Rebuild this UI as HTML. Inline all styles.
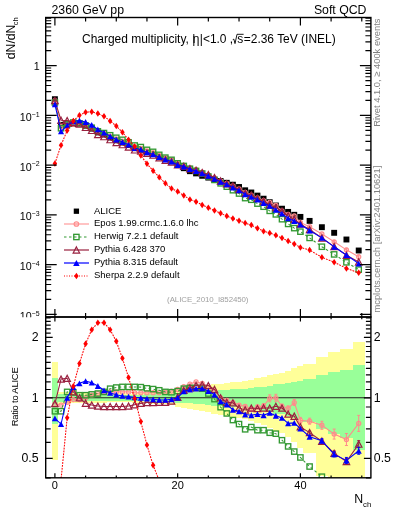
<!DOCTYPE html>
<html><head><meta charset="utf-8"><style>
html,body{margin:0;padding:0;background:#fff;}
body{width:393px;height:512px;overflow:hidden;position:relative;font-family:"Liberation Sans",sans-serif;}
svg{position:absolute;left:0;top:0;will-change:transform;}
text{font-family:"Liberation Sans",sans-serif;}
</style></head><body>
<svg width="393" height="512" viewBox="0 0 393 512">
<defs>
<clipPath id="cl5"><rect x="0" y="0" width="45" height="317.3"/></clipPath>
<clipPath id="ct"><rect x="45.7" y="17.5" width="325.2" height="299.5"/></clipPath>
<clipPath id="cr"><rect x="45.7" y="317.0" width="325.2" height="160.8"/></clipPath>
</defs>
<g clip-path="url(#cr)">
<g fill="#ffff99" shape-rendering="crispEdges"><rect x="51.83" y="361.83" width="6.16" height="98.24"/><rect x="57.97" y="391.89" width="6.16" height="12.24"/><rect x="64.11" y="392.2" width="6.16" height="11.58"/><rect x="70.24" y="392.51" width="6.16" height="10.93"/><rect x="76.38" y="392.82" width="6.16" height="10.27"/><rect x="82.52" y="393.13" width="6.16" height="9.61"/><rect x="88.66" y="393.19" width="6.16" height="9.49"/><rect x="94.79" y="393.24" width="6.16" height="9.36"/><rect x="100.93" y="393.3" width="6.16" height="9.24"/><rect x="107.07" y="393.36" width="6.16" height="9.11"/><rect x="113.21" y="393.42" width="6.16" height="8.99"/><rect x="119.34" y="393.48" width="6.16" height="8.86"/><rect x="125.48" y="393.54" width="6.16" height="8.74"/><rect x="131.62" y="393.26" width="6.16" height="9.32"/><rect x="137.76" y="392.99" width="6.16" height="9.9"/><rect x="143.89" y="392.71" width="6.16" height="10.49"/><rect x="150.03" y="392.44" width="6.16" height="11.07"/><rect x="156.17" y="392.17" width="6.16" height="11.66"/><rect x="162.31" y="391.89" width="6.16" height="12.24"/><rect x="168.44" y="390.88" width="6.16" height="14.44"/><rect x="174.58" y="389.88" width="6.16" height="16.64"/><rect x="180.72" y="388.89" width="6.16" height="18.84"/><rect x="186.86" y="387.91" width="6.16" height="21.05"/><rect x="192.99" y="387.03" width="6.16" height="23.05"/><rect x="199.13" y="386.17" width="6.16" height="25.05"/><rect x="205.27" y="385.32" width="6.16" height="27.06"/><rect x="211.41" y="384.47" width="6.16" height="29.07"/><rect x="217.54" y="383.72" width="6.16" height="30.87"/><rect x="223.68" y="382.98" width="6.16" height="32.67"/><rect x="229.82" y="382.25" width="6.16" height="34.49"/><rect x="235.96" y="381.52" width="6.16" height="36.3"/><rect x="242.09" y="380.62" width="6.16" height="38.59"/><rect x="248.23" y="379.73" width="6.16" height="40.89"/><rect x="254.37" y="378.39" width="6.16" height="44.41"/><rect x="260.51" y="376.94" width="6.16" height="48.34"/><rect x="266.64" y="375.17" width="6.16" height="53.27"/><rect x="272.78" y="373.83" width="6.16" height="57.12"/><rect x="278.92" y="372.64" width="6.16" height="60.64"/><rect x="285.06" y="370.77" width="6.16" height="66.4"/><rect x="291.19" y="368.49" width="6.16" height="73.76"/><rect x="297.33" y="366.27" width="6.16" height="81.37"/><rect x="303.47" y="364.23" width="12.29" height="88.83"/><rect x="315.74" y="357.32" width="12.3" height="118.31"/><rect x="328.02" y="352.31" width="12.29" height="125.49"/><rect x="340.29" y="349.2" width="12.29" height="128.6"/><rect x="352.57" y="342.09" width="12.3" height="135.71"/></g>
<g fill="#99ff99" shape-rendering="crispEdges"><rect x="51.83" y="377.9" width="6.16" height="45.71"/><rect x="57.97" y="393.96" width="6.16" height="7.86"/><rect x="64.11" y="394.12" width="6.16" height="7.51"/><rect x="70.24" y="394.29" width="6.16" height="7.16"/><rect x="76.38" y="394.46" width="6.16" height="6.81"/><rect x="82.52" y="394.63" width="6.16" height="6.46"/><rect x="88.66" y="394.68" width="6.16" height="6.36"/><rect x="94.79" y="394.72" width="6.16" height="6.26"/><rect x="100.93" y="394.77" width="6.16" height="6.16"/><rect x="107.07" y="394.82" width="6.16" height="6.06"/><rect x="113.21" y="394.87" width="6.16" height="5.96"/><rect x="119.34" y="394.92" width="6.16" height="5.86"/><rect x="125.48" y="394.97" width="6.16" height="5.76"/><rect x="131.62" y="394.8" width="6.16" height="6.11"/><rect x="137.76" y="394.63" width="6.16" height="6.46"/><rect x="143.89" y="394.46" width="6.16" height="6.81"/><rect x="150.03" y="394.29" width="6.16" height="7.16"/><rect x="156.17" y="394.12" width="6.16" height="7.51"/><rect x="162.31" y="393.96" width="6.16" height="7.86"/><rect x="168.44" y="393.64" width="6.16" height="8.52"/><rect x="174.58" y="393.33" width="6.16" height="9.17"/><rect x="180.72" y="393.02" width="6.16" height="9.83"/><rect x="186.86" y="392.71" width="6.16" height="10.49"/><rect x="192.99" y="392.2" width="6.16" height="11.58"/><rect x="199.13" y="391.69" width="6.16" height="12.68"/><rect x="205.27" y="391.18" width="6.16" height="13.78"/><rect x="211.41" y="390.68" width="6.16" height="14.88"/><rect x="217.54" y="390.28" width="6.16" height="15.76"/><rect x="223.68" y="389.88" width="6.16" height="16.64"/><rect x="229.82" y="389.48" width="6.16" height="17.52"/><rect x="235.96" y="389.08" width="6.16" height="18.4"/><rect x="242.09" y="388.61" width="6.16" height="19.46"/><rect x="248.23" y="388.14" width="6.16" height="20.52"/><rect x="254.37" y="387.21" width="6.16" height="22.65"/><rect x="260.51" y="386.52" width="6.16" height="24.25"/><rect x="266.64" y="385.6" width="6.16" height="26.39"/><rect x="272.78" y="384.47" width="6.16" height="29.07"/><rect x="278.92" y="383.8" width="6.16" height="30.69"/><rect x="285.06" y="382.69" width="6.16" height="33.4"/><rect x="291.19" y="381.52" width="6.16" height="36.3"/><rect x="297.33" y="380.58" width="6.16" height="38.68"/><rect x="303.47" y="379.16" width="12.29" height="42.36"/><rect x="315.74" y="374.9" width="12.3" height="54.04"/><rect x="328.02" y="372.25" width="12.29" height="61.82"/><rect x="340.29" y="370.19" width="12.29" height="68.22"/><rect x="352.57" y="365.49" width="12.3" height="84.18"/></g>
<line x1="45.7" y1="397.8" x2="370.9" y2="397.8" stroke="#222" stroke-width="1.1"/>
</g>
<g clip-path="url(#ct)">
<g><rect x="51.95" y="96.25" width="5.9" height="5.9" fill="#000" stroke="none" stroke-width="0"/><rect x="58.09" y="121.95" width="5.9" height="5.9" fill="#000" stroke="none" stroke-width="0"/><rect x="64.22" y="122.45" width="5.9" height="5.9" fill="#000" stroke="none" stroke-width="0"/><rect x="70.36" y="120.95" width="5.9" height="5.9" fill="#000" stroke="none" stroke-width="0"/><rect x="76.5" y="121.05" width="5.9" height="5.9" fill="#000" stroke="none" stroke-width="0"/><rect x="82.64" y="123.15" width="5.9" height="5.9" fill="#000" stroke="none" stroke-width="0"/><rect x="88.77" y="125.65" width="5.9" height="5.9" fill="#000" stroke="none" stroke-width="0"/><rect x="94.91" y="129.45" width="5.9" height="5.9" fill="#000" stroke="none" stroke-width="0"/><rect x="101.05" y="131.55" width="5.9" height="5.9" fill="#000" stroke="none" stroke-width="0"/><rect x="107.19" y="134.55" width="5.9" height="5.9" fill="#000" stroke="none" stroke-width="0"/><rect x="113.33" y="137.35" width="5.9" height="5.9" fill="#000" stroke="none" stroke-width="0"/><rect x="119.46" y="139.55" width="5.9" height="5.9" fill="#000" stroke="none" stroke-width="0"/><rect x="125.6" y="142.05" width="5.9" height="5.9" fill="#000" stroke="none" stroke-width="0"/><rect x="131.74" y="145.25" width="5.9" height="5.9" fill="#000" stroke="none" stroke-width="0"/><rect x="137.88" y="146.75" width="5.9" height="5.9" fill="#000" stroke="none" stroke-width="0"/><rect x="144.01" y="149.25" width="5.9" height="5.9" fill="#000" stroke="none" stroke-width="0"/><rect x="150.15" y="151.05" width="5.9" height="5.9" fill="#000" stroke="none" stroke-width="0"/><rect x="156.29" y="153.75" width="5.9" height="5.9" fill="#000" stroke="none" stroke-width="0"/><rect x="162.43" y="156.15" width="5.9" height="5.9" fill="#000" stroke="none" stroke-width="0"/><rect x="168.56" y="158.25" width="5.9" height="5.9" fill="#000" stroke="none" stroke-width="0"/><rect x="174.7" y="162.05" width="5.9" height="5.9" fill="#000" stroke="none" stroke-width="0"/><rect x="180.84" y="165.25" width="5.9" height="5.9" fill="#000" stroke="none" stroke-width="0"/><rect x="186.98" y="168.25" width="5.9" height="5.9" fill="#000" stroke="none" stroke-width="0"/><rect x="193.11" y="170.45" width="5.9" height="5.9" fill="#000" stroke="none" stroke-width="0"/><rect x="199.25" y="172.85" width="5.9" height="5.9" fill="#000" stroke="none" stroke-width="0"/><rect x="205.39" y="174.65" width="5.9" height="5.9" fill="#000" stroke="none" stroke-width="0"/><rect x="211.53" y="176.65" width="5.9" height="5.9" fill="#000" stroke="none" stroke-width="0"/><rect x="217.66" y="178.05" width="5.9" height="5.9" fill="#000" stroke="none" stroke-width="0"/><rect x="223.8" y="179.85" width="5.9" height="5.9" fill="#000" stroke="none" stroke-width="0"/><rect x="229.94" y="181.75" width="5.9" height="5.9" fill="#000" stroke="none" stroke-width="0"/><rect x="236.08" y="184.05" width="5.9" height="5.9" fill="#000" stroke="none" stroke-width="0"/><rect x="242.21" y="187.35" width="5.9" height="5.9" fill="#000" stroke="none" stroke-width="0"/><rect x="248.35" y="189.55" width="5.9" height="5.9" fill="#000" stroke="none" stroke-width="0"/><rect x="254.49" y="192.65" width="5.9" height="5.9" fill="#000" stroke="none" stroke-width="0"/><rect x="260.62" y="195.75" width="5.9" height="5.9" fill="#000" stroke="none" stroke-width="0"/><rect x="266.76" y="199.25" width="5.9" height="5.9" fill="#000" stroke="none" stroke-width="0"/><rect x="272.9" y="202.55" width="5.9" height="5.9" fill="#000" stroke="none" stroke-width="0"/><rect x="279.04" y="205.75" width="5.9" height="5.9" fill="#000" stroke="none" stroke-width="0"/><rect x="285.18" y="208.95" width="5.9" height="5.9" fill="#000" stroke="none" stroke-width="0"/><rect x="291.31" y="211.85" width="5.9" height="5.9" fill="#000" stroke="none" stroke-width="0"/><rect x="297.45" y="213.95" width="5.9" height="5.9" fill="#000" stroke="none" stroke-width="0"/><rect x="306.66" y="217.95" width="5.9" height="5.9" fill="#000" stroke="none" stroke-width="0"/><rect x="318.93" y="224.25" width="5.9" height="5.9" fill="#000" stroke="none" stroke-width="0"/><rect x="331.21" y="229.85" width="5.9" height="5.9" fill="#000" stroke="none" stroke-width="0"/><rect x="343.48" y="236.55" width="5.9" height="5.9" fill="#000" stroke="none" stroke-width="0"/><rect x="355.76" y="247.55" width="5.9" height="5.9" fill="#000" stroke="none" stroke-width="0"/></g>
<polyline points="54.9,100.77 61.04,126.7 67.17,126.51 73.31,124.34 79.45,124.44 85.59,126.1 91.72,127.96 97.86,131.35 104,133.24 110.14,136.04 116.28,138.84 122.41,141.04 128.55,143.54 134.69,146.94 140.82,148.44 146.96,150.94 153.1,152.74 159.24,155.44 165.38,157.74 171.51,159.54 177.65,162.94 183.79,165.43 189.93,167.81 196.06,169.46 202.2,172.26 208.34,174.96 214.48,177.94 220.61,181 226.75,183.46 232.89,185.81 239.03,188.8 245.16,192.41 251.3,195.26 257.44,197.88 263.57,200.74 269.71,202.33 275.85,205.5 281.99,210.86 288.12,214.52 294.26,215.98 300.4,222.49 309.61,226.69 321.88,234 334.16,241.78 346.43,249.83 358.71,256.83" fill="none" stroke="#ff8c8c" stroke-width="1.05"/>
<path d="M334.16 240.53V243.03M332.66 240.53H335.66M332.66 243.03H335.66" stroke="#ff8c8c" stroke-width="1" fill="none"/>
<path d="M346.43 248.33V251.33M344.93 248.33H347.93M344.93 251.33H347.93" stroke="#ff8c8c" stroke-width="1" fill="none"/>
<path d="M358.71 254.83V258.83M357.21 254.83H360.21M357.21 258.83H360.21" stroke="#ff8c8c" stroke-width="1" fill="none"/>
<g><circle cx="54.9" cy="100.77" r="2.1" fill="#ff8c8c" fill-opacity="0.3" stroke="#ff8c8c" stroke-width="1.1"/><circle cx="61.04" cy="126.7" r="2.1" fill="#ff8c8c" fill-opacity="0.3" stroke="#ff8c8c" stroke-width="1.1"/><circle cx="67.17" cy="126.51" r="2.1" fill="#ff8c8c" fill-opacity="0.3" stroke="#ff8c8c" stroke-width="1.1"/><circle cx="73.31" cy="124.34" r="2.1" fill="#ff8c8c" fill-opacity="0.3" stroke="#ff8c8c" stroke-width="1.1"/><circle cx="79.45" cy="124.44" r="2.1" fill="#ff8c8c" fill-opacity="0.3" stroke="#ff8c8c" stroke-width="1.1"/><circle cx="85.59" cy="126.1" r="2.1" fill="#ff8c8c" fill-opacity="0.3" stroke="#ff8c8c" stroke-width="1.1"/><circle cx="91.72" cy="127.96" r="2.1" fill="#ff8c8c" fill-opacity="0.3" stroke="#ff8c8c" stroke-width="1.1"/><circle cx="97.86" cy="131.35" r="2.1" fill="#ff8c8c" fill-opacity="0.3" stroke="#ff8c8c" stroke-width="1.1"/><circle cx="104" cy="133.24" r="2.1" fill="#ff8c8c" fill-opacity="0.3" stroke="#ff8c8c" stroke-width="1.1"/><circle cx="110.14" cy="136.04" r="2.1" fill="#ff8c8c" fill-opacity="0.3" stroke="#ff8c8c" stroke-width="1.1"/><circle cx="116.28" cy="138.84" r="2.1" fill="#ff8c8c" fill-opacity="0.3" stroke="#ff8c8c" stroke-width="1.1"/><circle cx="122.41" cy="141.04" r="2.1" fill="#ff8c8c" fill-opacity="0.3" stroke="#ff8c8c" stroke-width="1.1"/><circle cx="128.55" cy="143.54" r="2.1" fill="#ff8c8c" fill-opacity="0.3" stroke="#ff8c8c" stroke-width="1.1"/><circle cx="134.69" cy="146.94" r="2.1" fill="#ff8c8c" fill-opacity="0.3" stroke="#ff8c8c" stroke-width="1.1"/><circle cx="140.82" cy="148.44" r="2.1" fill="#ff8c8c" fill-opacity="0.3" stroke="#ff8c8c" stroke-width="1.1"/><circle cx="146.96" cy="150.94" r="2.1" fill="#ff8c8c" fill-opacity="0.3" stroke="#ff8c8c" stroke-width="1.1"/><circle cx="153.1" cy="152.74" r="2.1" fill="#ff8c8c" fill-opacity="0.3" stroke="#ff8c8c" stroke-width="1.1"/><circle cx="159.24" cy="155.44" r="2.1" fill="#ff8c8c" fill-opacity="0.3" stroke="#ff8c8c" stroke-width="1.1"/><circle cx="165.38" cy="157.74" r="2.1" fill="#ff8c8c" fill-opacity="0.3" stroke="#ff8c8c" stroke-width="1.1"/><circle cx="171.51" cy="159.54" r="2.1" fill="#ff8c8c" fill-opacity="0.3" stroke="#ff8c8c" stroke-width="1.1"/><circle cx="177.65" cy="162.94" r="2.1" fill="#ff8c8c" fill-opacity="0.3" stroke="#ff8c8c" stroke-width="1.1"/><circle cx="183.79" cy="165.43" r="2.1" fill="#ff8c8c" fill-opacity="0.3" stroke="#ff8c8c" stroke-width="1.1"/><circle cx="189.93" cy="167.81" r="2.1" fill="#ff8c8c" fill-opacity="0.3" stroke="#ff8c8c" stroke-width="1.1"/><circle cx="196.06" cy="169.46" r="2.1" fill="#ff8c8c" fill-opacity="0.3" stroke="#ff8c8c" stroke-width="1.1"/><circle cx="202.2" cy="172.26" r="2.1" fill="#ff8c8c" fill-opacity="0.3" stroke="#ff8c8c" stroke-width="1.1"/><circle cx="208.34" cy="174.96" r="2.1" fill="#ff8c8c" fill-opacity="0.3" stroke="#ff8c8c" stroke-width="1.1"/><circle cx="214.48" cy="177.94" r="2.1" fill="#ff8c8c" fill-opacity="0.3" stroke="#ff8c8c" stroke-width="1.1"/><circle cx="220.61" cy="181" r="2.1" fill="#ff8c8c" fill-opacity="0.3" stroke="#ff8c8c" stroke-width="1.1"/><circle cx="226.75" cy="183.46" r="2.1" fill="#ff8c8c" fill-opacity="0.3" stroke="#ff8c8c" stroke-width="1.1"/><circle cx="232.89" cy="185.81" r="2.1" fill="#ff8c8c" fill-opacity="0.3" stroke="#ff8c8c" stroke-width="1.1"/><circle cx="239.03" cy="188.8" r="2.1" fill="#ff8c8c" fill-opacity="0.3" stroke="#ff8c8c" stroke-width="1.1"/><circle cx="245.16" cy="192.41" r="2.1" fill="#ff8c8c" fill-opacity="0.3" stroke="#ff8c8c" stroke-width="1.1"/><circle cx="251.3" cy="195.26" r="2.1" fill="#ff8c8c" fill-opacity="0.3" stroke="#ff8c8c" stroke-width="1.1"/><circle cx="257.44" cy="197.88" r="2.1" fill="#ff8c8c" fill-opacity="0.3" stroke="#ff8c8c" stroke-width="1.1"/><circle cx="263.57" cy="200.74" r="2.1" fill="#ff8c8c" fill-opacity="0.3" stroke="#ff8c8c" stroke-width="1.1"/><circle cx="269.71" cy="202.33" r="2.1" fill="#ff8c8c" fill-opacity="0.3" stroke="#ff8c8c" stroke-width="1.1"/><circle cx="275.85" cy="205.5" r="2.1" fill="#ff8c8c" fill-opacity="0.3" stroke="#ff8c8c" stroke-width="1.1"/><circle cx="281.99" cy="210.86" r="2.1" fill="#ff8c8c" fill-opacity="0.3" stroke="#ff8c8c" stroke-width="1.1"/><circle cx="288.12" cy="214.52" r="2.1" fill="#ff8c8c" fill-opacity="0.3" stroke="#ff8c8c" stroke-width="1.1"/><circle cx="294.26" cy="215.98" r="2.1" fill="#ff8c8c" fill-opacity="0.3" stroke="#ff8c8c" stroke-width="1.1"/><circle cx="300.4" cy="222.49" r="2.1" fill="#ff8c8c" fill-opacity="0.3" stroke="#ff8c8c" stroke-width="1.1"/><circle cx="309.61" cy="226.69" r="2.1" fill="#ff8c8c" fill-opacity="0.3" stroke="#ff8c8c" stroke-width="1.1"/><circle cx="321.88" cy="234" r="2.1" fill="#ff8c8c" fill-opacity="0.3" stroke="#ff8c8c" stroke-width="1.1"/><circle cx="334.16" cy="241.78" r="2.1" fill="#ff8c8c" fill-opacity="0.3" stroke="#ff8c8c" stroke-width="1.1"/><circle cx="346.43" cy="249.83" r="2.1" fill="#ff8c8c" fill-opacity="0.3" stroke="#ff8c8c" stroke-width="1.1"/><circle cx="358.71" cy="256.83" r="2.1" fill="#ff8c8c" fill-opacity="0.3" stroke="#ff8c8c" stroke-width="1.1"/></g>
<polyline points="54.9,102.53 61.04,128.23 67.17,123.94 73.31,122.54 79.45,123.36 85.59,125.46 91.72,127.75 97.86,131.35 104,133.04 110.14,135.25 116.28,137.76 122.41,139.8 128.55,142.3 134.69,145.5 140.82,147.06 146.96,149.85 153.1,151.84 159.24,154.84 165.38,157.64 171.51,159.82 177.65,163.34 183.79,165.95 189.93,168.75 196.06,170.95 202.2,173.55 208.34,176.55 214.48,179.93 220.61,183.32 226.75,186.67 232.89,190.21 239.03,193.51 245.16,198.1 251.3,199.75 257.44,203.62 263.57,206.72 269.71,210.85 275.85,214.38 281.99,219.2 288.12,223.93 294.26,228.11 300.4,231.66 309.61,237.91 321.88,246.73 334.16,254.4 346.43,262.31 358.71,269.61" fill="none" stroke="#339933" stroke-width="1.05" stroke-dasharray="2.5,2.5"/>
<g><rect x="52.25" y="99.88" width="5.3" height="5.3" fill="none" stroke="#339933" stroke-width="1.35"/><rect x="58.39" y="125.58" width="5.3" height="5.3" fill="none" stroke="#339933" stroke-width="1.35"/><rect x="64.52" y="121.29" width="5.3" height="5.3" fill="none" stroke="#339933" stroke-width="1.35"/><rect x="70.66" y="119.89" width="5.3" height="5.3" fill="none" stroke="#339933" stroke-width="1.35"/><rect x="76.8" y="120.71" width="5.3" height="5.3" fill="none" stroke="#339933" stroke-width="1.35"/><rect x="82.94" y="122.81" width="5.3" height="5.3" fill="none" stroke="#339933" stroke-width="1.35"/><rect x="89.07" y="125.1" width="5.3" height="5.3" fill="none" stroke="#339933" stroke-width="1.35"/><rect x="95.21" y="128.7" width="5.3" height="5.3" fill="none" stroke="#339933" stroke-width="1.35"/><rect x="101.35" y="130.39" width="5.3" height="5.3" fill="none" stroke="#339933" stroke-width="1.35"/><rect x="107.49" y="132.6" width="5.3" height="5.3" fill="none" stroke="#339933" stroke-width="1.35"/><rect x="113.62" y="135.11" width="5.3" height="5.3" fill="none" stroke="#339933" stroke-width="1.35"/><rect x="119.76" y="137.15" width="5.3" height="5.3" fill="none" stroke="#339933" stroke-width="1.35"/><rect x="125.9" y="139.65" width="5.3" height="5.3" fill="none" stroke="#339933" stroke-width="1.35"/><rect x="132.04" y="142.85" width="5.3" height="5.3" fill="none" stroke="#339933" stroke-width="1.35"/><rect x="138.17" y="144.41" width="5.3" height="5.3" fill="none" stroke="#339933" stroke-width="1.35"/><rect x="144.31" y="147.2" width="5.3" height="5.3" fill="none" stroke="#339933" stroke-width="1.35"/><rect x="150.45" y="149.19" width="5.3" height="5.3" fill="none" stroke="#339933" stroke-width="1.35"/><rect x="156.59" y="152.19" width="5.3" height="5.3" fill="none" stroke="#339933" stroke-width="1.35"/><rect x="162.72" y="154.99" width="5.3" height="5.3" fill="none" stroke="#339933" stroke-width="1.35"/><rect x="168.86" y="157.17" width="5.3" height="5.3" fill="none" stroke="#339933" stroke-width="1.35"/><rect x="175" y="160.69" width="5.3" height="5.3" fill="none" stroke="#339933" stroke-width="1.35"/><rect x="181.14" y="163.3" width="5.3" height="5.3" fill="none" stroke="#339933" stroke-width="1.35"/><rect x="187.28" y="166.1" width="5.3" height="5.3" fill="none" stroke="#339933" stroke-width="1.35"/><rect x="193.41" y="168.3" width="5.3" height="5.3" fill="none" stroke="#339933" stroke-width="1.35"/><rect x="199.55" y="170.9" width="5.3" height="5.3" fill="none" stroke="#339933" stroke-width="1.35"/><rect x="205.69" y="173.9" width="5.3" height="5.3" fill="none" stroke="#339933" stroke-width="1.35"/><rect x="211.83" y="177.28" width="5.3" height="5.3" fill="none" stroke="#339933" stroke-width="1.35"/><rect x="217.96" y="180.67" width="5.3" height="5.3" fill="none" stroke="#339933" stroke-width="1.35"/><rect x="224.1" y="184.02" width="5.3" height="5.3" fill="none" stroke="#339933" stroke-width="1.35"/><rect x="230.24" y="187.56" width="5.3" height="5.3" fill="none" stroke="#339933" stroke-width="1.35"/><rect x="236.38" y="190.86" width="5.3" height="5.3" fill="none" stroke="#339933" stroke-width="1.35"/><rect x="242.51" y="195.45" width="5.3" height="5.3" fill="none" stroke="#339933" stroke-width="1.35"/><rect x="248.65" y="197.1" width="5.3" height="5.3" fill="none" stroke="#339933" stroke-width="1.35"/><rect x="254.79" y="200.97" width="5.3" height="5.3" fill="none" stroke="#339933" stroke-width="1.35"/><rect x="260.93" y="204.07" width="5.3" height="5.3" fill="none" stroke="#339933" stroke-width="1.35"/><rect x="267.06" y="208.2" width="5.3" height="5.3" fill="none" stroke="#339933" stroke-width="1.35"/><rect x="273.2" y="211.73" width="5.3" height="5.3" fill="none" stroke="#339933" stroke-width="1.35"/><rect x="279.34" y="216.55" width="5.3" height="5.3" fill="none" stroke="#339933" stroke-width="1.35"/><rect x="285.48" y="221.28" width="5.3" height="5.3" fill="none" stroke="#339933" stroke-width="1.35"/><rect x="291.61" y="225.46" width="5.3" height="5.3" fill="none" stroke="#339933" stroke-width="1.35"/><rect x="297.75" y="229.01" width="5.3" height="5.3" fill="none" stroke="#339933" stroke-width="1.35"/><rect x="306.96" y="235.26" width="5.3" height="5.3" fill="none" stroke="#339933" stroke-width="1.35"/><rect x="319.23" y="244.08" width="5.3" height="5.3" fill="none" stroke="#339933" stroke-width="1.35"/><rect x="331.51" y="251.75" width="5.3" height="5.3" fill="none" stroke="#339933" stroke-width="1.35"/><rect x="343.78" y="259.66" width="5.3" height="5.3" fill="none" stroke="#339933" stroke-width="1.35"/><rect x="356.06" y="266.96" width="5.3" height="5.3" fill="none" stroke="#339933" stroke-width="1.35"/></g>
<polyline points="54.9,100.63 61.04,120.25 67.17,120.58 73.31,122.44 79.45,124 85.59,127.44 91.72,130.4 97.86,134.44 104,136.66 110.14,139.66 116.28,142.46 122.41,144.66 128.55,147.04 134.69,149.91 140.82,151.08 146.96,153.38 153.1,155.15 159.24,157.81 165.38,160.21 171.51,162.01 177.65,164.85 183.79,166.34 189.93,168.75 196.06,170.38 202.2,172.59 208.34,174.58 214.48,177.54 220.61,181 226.75,183.91 232.89,185.95 239.03,189.54 245.16,193.31 251.3,195.04 257.44,198.26 263.57,201.22 269.71,204.74 275.85,207.61 281.99,211.24 288.12,215.93 294.26,219.35 300.4,224.09 309.61,229.52 321.88,237.95 334.16,246.56 346.43,255.27 358.71,261.97" fill="none" stroke="#99203f" stroke-width="1.05"/>
<g><path d="M54.9 97.54L58.15 103.72L51.65 103.72Z" fill="none" stroke="#99203f" stroke-width="1.2"/><path d="M61.04 117.16L64.29 123.34L57.79 123.34Z" fill="none" stroke="#99203f" stroke-width="1.2"/><path d="M67.17 117.49L70.42 123.67L63.92 123.67Z" fill="none" stroke="#99203f" stroke-width="1.2"/><path d="M73.31 119.35L76.56 125.53L70.06 125.53Z" fill="none" stroke="#99203f" stroke-width="1.2"/><path d="M79.45 120.91L82.7 127.09L76.2 127.09Z" fill="none" stroke="#99203f" stroke-width="1.2"/><path d="M85.59 124.35L88.84 130.52L82.34 130.52Z" fill="none" stroke="#99203f" stroke-width="1.2"/><path d="M91.72 127.31L94.97 133.49L88.47 133.49Z" fill="none" stroke="#99203f" stroke-width="1.2"/><path d="M97.86 131.35L101.11 137.53L94.61 137.53Z" fill="none" stroke="#99203f" stroke-width="1.2"/><path d="M104 133.57L107.25 139.74L100.75 139.74Z" fill="none" stroke="#99203f" stroke-width="1.2"/><path d="M110.14 136.57L113.39 142.74L106.89 142.74Z" fill="none" stroke="#99203f" stroke-width="1.2"/><path d="M116.28 139.37L119.53 145.54L113.03 145.54Z" fill="none" stroke="#99203f" stroke-width="1.2"/><path d="M122.41 141.57L125.66 147.74L119.16 147.74Z" fill="none" stroke="#99203f" stroke-width="1.2"/><path d="M128.55 143.95L131.8 150.13L125.3 150.13Z" fill="none" stroke="#99203f" stroke-width="1.2"/><path d="M134.69 146.82L137.94 153L131.44 153Z" fill="none" stroke="#99203f" stroke-width="1.2"/><path d="M140.82 148L144.07 154.17L137.57 154.17Z" fill="none" stroke="#99203f" stroke-width="1.2"/><path d="M146.96 150.29L150.21 156.46L143.71 156.46Z" fill="none" stroke="#99203f" stroke-width="1.2"/><path d="M153.1 152.07L156.35 158.24L149.85 158.24Z" fill="none" stroke="#99203f" stroke-width="1.2"/><path d="M159.24 154.72L162.49 160.9L155.99 160.9Z" fill="none" stroke="#99203f" stroke-width="1.2"/><path d="M165.38 157.12L168.62 163.3L162.12 163.3Z" fill="none" stroke="#99203f" stroke-width="1.2"/><path d="M171.51 158.93L174.76 165.1L168.26 165.1Z" fill="none" stroke="#99203f" stroke-width="1.2"/><path d="M177.65 161.76L180.9 167.94L174.4 167.94Z" fill="none" stroke="#99203f" stroke-width="1.2"/><path d="M183.79 163.25L187.04 169.43L180.54 169.43Z" fill="none" stroke="#99203f" stroke-width="1.2"/><path d="M189.93 165.66L193.18 171.84L186.68 171.84Z" fill="none" stroke="#99203f" stroke-width="1.2"/><path d="M196.06 167.29L199.31 173.47L192.81 173.47Z" fill="none" stroke="#99203f" stroke-width="1.2"/><path d="M202.2 169.51L205.45 175.68L198.95 175.68Z" fill="none" stroke="#99203f" stroke-width="1.2"/><path d="M208.34 171.49L211.59 177.67L205.09 177.67Z" fill="none" stroke="#99203f" stroke-width="1.2"/><path d="M214.48 174.45L217.73 180.63L211.23 180.63Z" fill="none" stroke="#99203f" stroke-width="1.2"/><path d="M220.61 177.91L223.86 184.09L217.36 184.09Z" fill="none" stroke="#99203f" stroke-width="1.2"/><path d="M226.75 180.82L230 187L223.5 187Z" fill="none" stroke="#99203f" stroke-width="1.2"/><path d="M232.89 182.86L236.14 189.03L229.64 189.03Z" fill="none" stroke="#99203f" stroke-width="1.2"/><path d="M239.03 186.45L242.28 192.63L235.78 192.63Z" fill="none" stroke="#99203f" stroke-width="1.2"/><path d="M245.16 190.22L248.41 196.4L241.91 196.4Z" fill="none" stroke="#99203f" stroke-width="1.2"/><path d="M251.3 191.95L254.55 198.13L248.05 198.13Z" fill="none" stroke="#99203f" stroke-width="1.2"/><path d="M257.44 195.18L260.69 201.35L254.19 201.35Z" fill="none" stroke="#99203f" stroke-width="1.2"/><path d="M263.57 198.13L266.82 204.31L260.32 204.31Z" fill="none" stroke="#99203f" stroke-width="1.2"/><path d="M269.71 201.65L272.96 207.83L266.46 207.83Z" fill="none" stroke="#99203f" stroke-width="1.2"/><path d="M275.85 204.52L279.1 210.7L272.6 210.7Z" fill="none" stroke="#99203f" stroke-width="1.2"/><path d="M281.99 208.15L285.24 214.33L278.74 214.33Z" fill="none" stroke="#99203f" stroke-width="1.2"/><path d="M288.12 212.84L291.38 219.01L284.88 219.01Z" fill="none" stroke="#99203f" stroke-width="1.2"/><path d="M294.26 216.27L297.51 222.44L291.01 222.44Z" fill="none" stroke="#99203f" stroke-width="1.2"/><path d="M300.4 221L303.65 227.18L297.15 227.18Z" fill="none" stroke="#99203f" stroke-width="1.2"/><path d="M309.61 226.43L312.86 232.61L306.36 232.61Z" fill="none" stroke="#99203f" stroke-width="1.2"/><path d="M321.88 234.86L325.13 241.04L318.63 241.04Z" fill="none" stroke="#99203f" stroke-width="1.2"/><path d="M334.16 243.47L337.41 249.65L330.91 249.65Z" fill="none" stroke="#99203f" stroke-width="1.2"/><path d="M346.43 252.18L349.68 258.36L343.18 258.36Z" fill="none" stroke="#99203f" stroke-width="1.2"/><path d="M358.71 258.89L361.96 265.06L355.46 265.06Z" fill="none" stroke="#99203f" stroke-width="1.2"/></g>
<polyline points="54.9,104.29 61.04,131.41 67.17,125.4 73.31,121.26 79.45,120.42 85.59,121.98 91.72,124.84 97.86,129.47 104,132.64 110.14,136.3 116.28,139.54 122.41,142.03 128.55,144.7 134.69,148.09 140.82,149.7 146.96,152.42 153.1,154.37 159.24,157.22 165.38,159.62 171.51,161.57 177.65,165 183.79,166.62 189.93,169.14 196.06,171.15 202.2,173.45 208.34,175.94 214.48,178.84 220.61,181.88 226.75,184.46 232.89,187.66 239.03,190.38 245.16,194.43 251.3,196.81 257.44,199.63 263.57,203.01 269.71,205.94 275.85,209.95 281.99,213.68 288.12,218.23 294.26,221.02 300.4,224.51 309.61,230.54 321.88,237.84 334.16,246.8 346.43,255 358.71,263.61" fill="none" stroke="#0000ff" stroke-width="1.05"/>
<g><path d="M54.9 101.4L57.95 107.19L51.85 107.19Z" fill="#0000ff" stroke="none" stroke-width="0"/><path d="M61.04 128.51L64.09 134.3L57.99 134.3Z" fill="#0000ff" stroke="none" stroke-width="0"/><path d="M67.17 122.5L70.22 128.3L64.12 128.3Z" fill="#0000ff" stroke="none" stroke-width="0"/><path d="M73.31 118.36L76.36 124.16L70.26 124.16Z" fill="#0000ff" stroke="none" stroke-width="0"/><path d="M79.45 117.53L82.5 123.32L76.4 123.32Z" fill="#0000ff" stroke="none" stroke-width="0"/><path d="M85.59 119.08L88.64 124.88L82.54 124.88Z" fill="#0000ff" stroke="none" stroke-width="0"/><path d="M91.72 121.94L94.77 127.74L88.67 127.74Z" fill="#0000ff" stroke="none" stroke-width="0"/><path d="M97.86 126.58L100.91 132.37L94.81 132.37Z" fill="#0000ff" stroke="none" stroke-width="0"/><path d="M104 129.74L107.05 135.54L100.95 135.54Z" fill="#0000ff" stroke="none" stroke-width="0"/><path d="M110.14 133.4L113.19 139.2L107.09 139.2Z" fill="#0000ff" stroke="none" stroke-width="0"/><path d="M116.28 136.64L119.33 142.43L113.23 142.43Z" fill="#0000ff" stroke="none" stroke-width="0"/><path d="M122.41 139.13L125.46 144.93L119.36 144.93Z" fill="#0000ff" stroke="none" stroke-width="0"/><path d="M128.55 141.8L131.6 147.6L125.5 147.6Z" fill="#0000ff" stroke="none" stroke-width="0"/><path d="M134.69 145.19L137.74 150.99L131.64 150.99Z" fill="#0000ff" stroke="none" stroke-width="0"/><path d="M140.82 146.8L143.88 152.6L137.77 152.6Z" fill="#0000ff" stroke="none" stroke-width="0"/><path d="M146.96 149.52L150.01 155.31L143.91 155.31Z" fill="#0000ff" stroke="none" stroke-width="0"/><path d="M153.1 151.47L156.15 157.27L150.05 157.27Z" fill="#0000ff" stroke="none" stroke-width="0"/><path d="M159.24 154.33L162.29 160.12L156.19 160.12Z" fill="#0000ff" stroke="none" stroke-width="0"/><path d="M165.38 156.73L168.43 162.52L162.32 162.52Z" fill="#0000ff" stroke="none" stroke-width="0"/><path d="M171.51 158.67L174.56 164.47L168.46 164.47Z" fill="#0000ff" stroke="none" stroke-width="0"/><path d="M177.65 162.1L180.7 167.9L174.6 167.9Z" fill="#0000ff" stroke="none" stroke-width="0"/><path d="M183.79 163.72L186.84 169.51L180.74 169.51Z" fill="#0000ff" stroke="none" stroke-width="0"/><path d="M189.93 166.24L192.98 172.04L186.88 172.04Z" fill="#0000ff" stroke="none" stroke-width="0"/><path d="M196.06 168.25L199.11 174.04L193.01 174.04Z" fill="#0000ff" stroke="none" stroke-width="0"/><path d="M202.2 170.55L205.25 176.35L199.15 176.35Z" fill="#0000ff" stroke="none" stroke-width="0"/><path d="M208.34 173.04L211.39 178.83L205.29 178.83Z" fill="#0000ff" stroke="none" stroke-width="0"/><path d="M214.48 175.94L217.53 181.73L211.43 181.73Z" fill="#0000ff" stroke="none" stroke-width="0"/><path d="M220.61 178.98L223.66 184.78L217.56 184.78Z" fill="#0000ff" stroke="none" stroke-width="0"/><path d="M226.75 181.56L229.8 187.36L223.7 187.36Z" fill="#0000ff" stroke="none" stroke-width="0"/><path d="M232.89 184.76L235.94 190.56L229.84 190.56Z" fill="#0000ff" stroke="none" stroke-width="0"/><path d="M239.03 187.49L242.08 193.28L235.97 193.28Z" fill="#0000ff" stroke="none" stroke-width="0"/><path d="M245.16 191.53L248.21 197.33L242.11 197.33Z" fill="#0000ff" stroke="none" stroke-width="0"/><path d="M251.3 193.92L254.35 199.71L248.25 199.71Z" fill="#0000ff" stroke="none" stroke-width="0"/><path d="M257.44 196.73L260.49 202.52L254.39 202.52Z" fill="#0000ff" stroke="none" stroke-width="0"/><path d="M263.57 200.12L266.62 205.91L260.52 205.91Z" fill="#0000ff" stroke="none" stroke-width="0"/><path d="M269.71 203.04L272.76 208.84L266.66 208.84Z" fill="#0000ff" stroke="none" stroke-width="0"/><path d="M275.85 207.05L278.9 212.84L272.8 212.84Z" fill="#0000ff" stroke="none" stroke-width="0"/><path d="M281.99 210.79L285.04 216.58L278.94 216.58Z" fill="#0000ff" stroke="none" stroke-width="0"/><path d="M288.12 215.33L291.18 221.13L285.07 221.13Z" fill="#0000ff" stroke="none" stroke-width="0"/><path d="M294.26 218.12L297.31 223.91L291.21 223.91Z" fill="#0000ff" stroke="none" stroke-width="0"/><path d="M300.4 221.62L303.45 227.41L297.35 227.41Z" fill="#0000ff" stroke="none" stroke-width="0"/><path d="M309.61 227.65L312.66 233.44L306.56 233.44Z" fill="#0000ff" stroke="none" stroke-width="0"/><path d="M321.88 234.95L324.93 240.74L318.83 240.74Z" fill="#0000ff" stroke="none" stroke-width="0"/><path d="M334.16 243.91L337.21 249.7L331.11 249.7Z" fill="#0000ff" stroke="none" stroke-width="0"/><path d="M346.43 252.1L349.48 257.9L343.38 257.9Z" fill="#0000ff" stroke="none" stroke-width="0"/><path d="M358.71 260.72L361.76 266.51L355.66 266.51Z" fill="#0000ff" stroke="none" stroke-width="0"/></g>
<polyline points="54.9,163.6 61.04,145.2 67.17,130.5 73.31,121 79.45,115.3 85.59,112.2 91.72,111.8 97.86,113.6 104,116.3 110.14,121 116.28,126 122.41,132.2 128.55,139.7 134.69,146.4 140.82,155.5 146.96,163.8 153.1,170.7 159.24,177.2 165.38,183.3 171.51,188.6 177.65,191.5 183.79,195.5 189.93,199.6 196.06,201.7 202.2,204.9 208.34,207.8 214.48,210.5 220.61,213.3 226.75,216 232.89,218.6 239.03,220.7 245.16,223.1 251.3,225.1 257.44,228.2 263.57,231.2 269.71,232.9 275.85,235.3 281.99,238 288.12,241 294.26,243.9 300.4,247.4 309.61,250.1 321.88,257.3 334.16,262.2 346.43,268.4 358.71,272.8" fill="none" stroke="#ff0000" stroke-width="1.05" stroke-dasharray="1.8,1.1"/>
<g><path d="M54.9 160.35L57.15 163.6L54.9 166.85L52.65 163.6Z" fill="#ff0000"/><path d="M61.04 141.95L63.29 145.2L61.04 148.45L58.79 145.2Z" fill="#ff0000"/><path d="M67.17 127.25L69.42 130.5L67.17 133.75L64.92 130.5Z" fill="#ff0000"/><path d="M73.31 117.75L75.56 121L73.31 124.25L71.06 121Z" fill="#ff0000"/><path d="M79.45 112.05L81.7 115.3L79.45 118.55L77.2 115.3Z" fill="#ff0000"/><path d="M85.59 108.95L87.84 112.2L85.59 115.45L83.34 112.2Z" fill="#ff0000"/><path d="M91.72 108.55L93.97 111.8L91.72 115.05L89.47 111.8Z" fill="#ff0000"/><path d="M97.86 110.35L100.11 113.6L97.86 116.85L95.61 113.6Z" fill="#ff0000"/><path d="M104 113.05L106.25 116.3L104 119.55L101.75 116.3Z" fill="#ff0000"/><path d="M110.14 117.75L112.39 121L110.14 124.25L107.89 121Z" fill="#ff0000"/><path d="M116.28 122.75L118.53 126L116.28 129.25L114.03 126Z" fill="#ff0000"/><path d="M122.41 128.95L124.66 132.2L122.41 135.45L120.16 132.2Z" fill="#ff0000"/><path d="M128.55 136.45L130.8 139.7L128.55 142.95L126.3 139.7Z" fill="#ff0000"/><path d="M134.69 143.15L136.94 146.4L134.69 149.65L132.44 146.4Z" fill="#ff0000"/><path d="M140.82 152.25L143.07 155.5L140.82 158.75L138.57 155.5Z" fill="#ff0000"/><path d="M146.96 160.55L149.21 163.8L146.96 167.05L144.71 163.8Z" fill="#ff0000"/><path d="M153.1 167.45L155.35 170.7L153.1 173.95L150.85 170.7Z" fill="#ff0000"/><path d="M159.24 173.95L161.49 177.2L159.24 180.45L156.99 177.2Z" fill="#ff0000"/><path d="M165.38 180.05L167.62 183.3L165.38 186.55L163.12 183.3Z" fill="#ff0000"/><path d="M171.51 185.35L173.76 188.6L171.51 191.85L169.26 188.6Z" fill="#ff0000"/><path d="M177.65 188.25L179.9 191.5L177.65 194.75L175.4 191.5Z" fill="#ff0000"/><path d="M183.79 192.25L186.04 195.5L183.79 198.75L181.54 195.5Z" fill="#ff0000"/><path d="M189.93 196.35L192.18 199.6L189.93 202.85L187.68 199.6Z" fill="#ff0000"/><path d="M196.06 198.45L198.31 201.7L196.06 204.95L193.81 201.7Z" fill="#ff0000"/><path d="M202.2 201.65L204.45 204.9L202.2 208.15L199.95 204.9Z" fill="#ff0000"/><path d="M208.34 204.55L210.59 207.8L208.34 211.05L206.09 207.8Z" fill="#ff0000"/><path d="M214.48 207.25L216.73 210.5L214.48 213.75L212.23 210.5Z" fill="#ff0000"/><path d="M220.61 210.05L222.86 213.3L220.61 216.55L218.36 213.3Z" fill="#ff0000"/><path d="M226.75 212.75L229 216L226.75 219.25L224.5 216Z" fill="#ff0000"/><path d="M232.89 215.35L235.14 218.6L232.89 221.85L230.64 218.6Z" fill="#ff0000"/><path d="M239.03 217.45L241.28 220.7L239.03 223.95L236.78 220.7Z" fill="#ff0000"/><path d="M245.16 219.85L247.41 223.1L245.16 226.35L242.91 223.1Z" fill="#ff0000"/><path d="M251.3 221.85L253.55 225.1L251.3 228.35L249.05 225.1Z" fill="#ff0000"/><path d="M257.44 224.95L259.69 228.2L257.44 231.45L255.19 228.2Z" fill="#ff0000"/><path d="M263.57 227.95L265.82 231.2L263.57 234.45L261.32 231.2Z" fill="#ff0000"/><path d="M269.71 229.65L271.96 232.9L269.71 236.15L267.46 232.9Z" fill="#ff0000"/><path d="M275.85 232.05L278.1 235.3L275.85 238.55L273.6 235.3Z" fill="#ff0000"/><path d="M281.99 234.75L284.24 238L281.99 241.25L279.74 238Z" fill="#ff0000"/><path d="M288.12 237.75L290.38 241L288.12 244.25L285.88 241Z" fill="#ff0000"/><path d="M294.26 240.65L296.51 243.9L294.26 247.15L292.01 243.9Z" fill="#ff0000"/><path d="M300.4 244.15L302.65 247.4L300.4 250.65L298.15 247.4Z" fill="#ff0000"/><path d="M309.61 246.85L311.86 250.1L309.61 253.35L307.36 250.1Z" fill="#ff0000"/><path d="M321.88 254.05L324.13 257.3L321.88 260.55L319.63 257.3Z" fill="#ff0000"/><path d="M334.16 258.95L336.41 262.2L334.16 265.45L331.91 262.2Z" fill="#ff0000"/><path d="M346.43 265.15L348.68 268.4L346.43 271.65L344.18 268.4Z" fill="#ff0000"/><path d="M358.71 269.55L360.96 272.8L358.71 276.05L356.46 272.8Z" fill="#ff0000"/></g>
</g>
<g clip-path="url(#cr)">
<polyline points="54.9,404.13 61.04,405.08 67.17,402.28 73.31,399.56 79.45,399.56 85.59,397.8 91.72,395.22 97.86,393.54 104,392.71 110.14,391.89 116.28,391.89 122.41,391.89 128.55,391.89 134.69,392.71 140.82,392.71 146.96,392.71 153.1,392.71 159.24,392.71 165.38,392.3 171.51,391.08 177.65,389.48 183.79,386.59 189.93,384.09 196.06,381.88 202.2,383.5 208.34,387.13 214.48,391.08 220.61,397.8 226.75,400.46 232.89,402.28 239.03,405.08 245.16,406.32 251.3,408.96 257.44,407 263.57,406.03 269.71,398.33 275.85,397.8 281.99,406.51 288.12,408.37 294.26,402.55 300.4,420.39 309.61,421.18 321.88,425.27 334.16,434.07 346.43,439.53 358.71,423.38" fill="none" stroke="#ff8c8c" stroke-width="1.05"/>
<path d="M239.03 403.58V406.58M237.53 403.58H240.53M237.53 406.58H240.53" stroke="#ff8c8c" stroke-width="1" fill="none"/>
<path d="M245.16 404.82V407.82M243.66 404.82H246.66M243.66 407.82H246.66" stroke="#ff8c8c" stroke-width="1" fill="none"/>
<path d="M251.3 406.96V410.96M249.8 406.96H252.8M249.8 410.96H252.8" stroke="#ff8c8c" stroke-width="1" fill="none"/>
<path d="M257.44 405V409M255.94 405H258.94M255.94 409H258.94" stroke="#ff8c8c" stroke-width="1" fill="none"/>
<path d="M263.57 403.53V408.53M262.07 403.53H265.07M262.07 408.53H265.07" stroke="#ff8c8c" stroke-width="1" fill="none"/>
<path d="M269.71 394.83V401.83M268.21 394.83H271.21M268.21 401.83H271.21" stroke="#ff8c8c" stroke-width="1" fill="none"/>
<path d="M275.85 394.3V401.3M274.35 394.3H277.35M274.35 401.3H277.35" stroke="#ff8c8c" stroke-width="1" fill="none"/>
<path d="M281.99 404.01V409.01M280.49 404.01H283.49M280.49 409.01H283.49" stroke="#ff8c8c" stroke-width="1" fill="none"/>
<path d="M288.12 405.87V410.87M286.62 405.87H289.62M286.62 410.87H289.62" stroke="#ff8c8c" stroke-width="1" fill="none"/>
<path d="M294.26 399.55V405.55M292.76 399.55H295.76M292.76 405.55H295.76" stroke="#ff8c8c" stroke-width="1" fill="none"/>
<path d="M300.4 417.39V423.39M298.9 417.39H301.9M298.9 423.39H301.9" stroke="#ff8c8c" stroke-width="1" fill="none"/>
<path d="M309.61 418.18V424.18M308.11 418.18H311.11M308.11 424.18H311.11" stroke="#ff8c8c" stroke-width="1" fill="none"/>
<path d="M321.88 421.27V429.27M320.38 421.27H323.38M320.38 429.27H323.38" stroke="#ff8c8c" stroke-width="1" fill="none"/>
<path d="M334.16 429.07V439.07M332.66 429.07H335.66M332.66 439.07H335.66" stroke="#ff8c8c" stroke-width="1" fill="none"/>
<path d="M346.43 433.53V445.53M344.93 433.53H347.93M344.93 445.53H347.93" stroke="#ff8c8c" stroke-width="1" fill="none"/>
<path d="M358.71 415.38V431.38M357.21 415.38H360.21M357.21 431.38H360.21" stroke="#ff8c8c" stroke-width="1" fill="none"/>
<g><circle cx="54.9" cy="404.13" r="2.1" fill="#ff8c8c" fill-opacity="0.3" stroke="#ff8c8c" stroke-width="1.1"/><circle cx="61.04" cy="405.08" r="2.1" fill="#ff8c8c" fill-opacity="0.3" stroke="#ff8c8c" stroke-width="1.1"/><circle cx="67.17" cy="402.28" r="2.1" fill="#ff8c8c" fill-opacity="0.3" stroke="#ff8c8c" stroke-width="1.1"/><circle cx="73.31" cy="399.56" r="2.1" fill="#ff8c8c" fill-opacity="0.3" stroke="#ff8c8c" stroke-width="1.1"/><circle cx="79.45" cy="399.56" r="2.1" fill="#ff8c8c" fill-opacity="0.3" stroke="#ff8c8c" stroke-width="1.1"/><circle cx="85.59" cy="397.8" r="2.1" fill="#ff8c8c" fill-opacity="0.3" stroke="#ff8c8c" stroke-width="1.1"/><circle cx="91.72" cy="395.22" r="2.1" fill="#ff8c8c" fill-opacity="0.3" stroke="#ff8c8c" stroke-width="1.1"/><circle cx="97.86" cy="393.54" r="2.1" fill="#ff8c8c" fill-opacity="0.3" stroke="#ff8c8c" stroke-width="1.1"/><circle cx="104" cy="392.71" r="2.1" fill="#ff8c8c" fill-opacity="0.3" stroke="#ff8c8c" stroke-width="1.1"/><circle cx="110.14" cy="391.89" r="2.1" fill="#ff8c8c" fill-opacity="0.3" stroke="#ff8c8c" stroke-width="1.1"/><circle cx="116.28" cy="391.89" r="2.1" fill="#ff8c8c" fill-opacity="0.3" stroke="#ff8c8c" stroke-width="1.1"/><circle cx="122.41" cy="391.89" r="2.1" fill="#ff8c8c" fill-opacity="0.3" stroke="#ff8c8c" stroke-width="1.1"/><circle cx="128.55" cy="391.89" r="2.1" fill="#ff8c8c" fill-opacity="0.3" stroke="#ff8c8c" stroke-width="1.1"/><circle cx="134.69" cy="392.71" r="2.1" fill="#ff8c8c" fill-opacity="0.3" stroke="#ff8c8c" stroke-width="1.1"/><circle cx="140.82" cy="392.71" r="2.1" fill="#ff8c8c" fill-opacity="0.3" stroke="#ff8c8c" stroke-width="1.1"/><circle cx="146.96" cy="392.71" r="2.1" fill="#ff8c8c" fill-opacity="0.3" stroke="#ff8c8c" stroke-width="1.1"/><circle cx="153.1" cy="392.71" r="2.1" fill="#ff8c8c" fill-opacity="0.3" stroke="#ff8c8c" stroke-width="1.1"/><circle cx="159.24" cy="392.71" r="2.1" fill="#ff8c8c" fill-opacity="0.3" stroke="#ff8c8c" stroke-width="1.1"/><circle cx="165.38" cy="392.3" r="2.1" fill="#ff8c8c" fill-opacity="0.3" stroke="#ff8c8c" stroke-width="1.1"/><circle cx="171.51" cy="391.08" r="2.1" fill="#ff8c8c" fill-opacity="0.3" stroke="#ff8c8c" stroke-width="1.1"/><circle cx="177.65" cy="389.48" r="2.1" fill="#ff8c8c" fill-opacity="0.3" stroke="#ff8c8c" stroke-width="1.1"/><circle cx="183.79" cy="386.59" r="2.1" fill="#ff8c8c" fill-opacity="0.3" stroke="#ff8c8c" stroke-width="1.1"/><circle cx="189.93" cy="384.09" r="2.1" fill="#ff8c8c" fill-opacity="0.3" stroke="#ff8c8c" stroke-width="1.1"/><circle cx="196.06" cy="381.88" r="2.1" fill="#ff8c8c" fill-opacity="0.3" stroke="#ff8c8c" stroke-width="1.1"/><circle cx="202.2" cy="383.5" r="2.1" fill="#ff8c8c" fill-opacity="0.3" stroke="#ff8c8c" stroke-width="1.1"/><circle cx="208.34" cy="387.13" r="2.1" fill="#ff8c8c" fill-opacity="0.3" stroke="#ff8c8c" stroke-width="1.1"/><circle cx="214.48" cy="391.08" r="2.1" fill="#ff8c8c" fill-opacity="0.3" stroke="#ff8c8c" stroke-width="1.1"/><circle cx="220.61" cy="397.8" r="2.1" fill="#ff8c8c" fill-opacity="0.3" stroke="#ff8c8c" stroke-width="1.1"/><circle cx="226.75" cy="400.46" r="2.1" fill="#ff8c8c" fill-opacity="0.3" stroke="#ff8c8c" stroke-width="1.1"/><circle cx="232.89" cy="402.28" r="2.1" fill="#ff8c8c" fill-opacity="0.3" stroke="#ff8c8c" stroke-width="1.1"/><circle cx="239.03" cy="405.08" r="2.1" fill="#ff8c8c" fill-opacity="0.3" stroke="#ff8c8c" stroke-width="1.1"/><circle cx="245.16" cy="406.32" r="2.1" fill="#ff8c8c" fill-opacity="0.3" stroke="#ff8c8c" stroke-width="1.1"/><circle cx="251.3" cy="408.96" r="2.1" fill="#ff8c8c" fill-opacity="0.3" stroke="#ff8c8c" stroke-width="1.1"/><circle cx="257.44" cy="407" r="2.1" fill="#ff8c8c" fill-opacity="0.3" stroke="#ff8c8c" stroke-width="1.1"/><circle cx="263.57" cy="406.03" r="2.1" fill="#ff8c8c" fill-opacity="0.3" stroke="#ff8c8c" stroke-width="1.1"/><circle cx="269.71" cy="398.33" r="2.1" fill="#ff8c8c" fill-opacity="0.3" stroke="#ff8c8c" stroke-width="1.1"/><circle cx="275.85" cy="397.8" r="2.1" fill="#ff8c8c" fill-opacity="0.3" stroke="#ff8c8c" stroke-width="1.1"/><circle cx="281.99" cy="406.51" r="2.1" fill="#ff8c8c" fill-opacity="0.3" stroke="#ff8c8c" stroke-width="1.1"/><circle cx="288.12" cy="408.37" r="2.1" fill="#ff8c8c" fill-opacity="0.3" stroke="#ff8c8c" stroke-width="1.1"/><circle cx="294.26" cy="402.55" r="2.1" fill="#ff8c8c" fill-opacity="0.3" stroke="#ff8c8c" stroke-width="1.1"/><circle cx="300.4" cy="420.39" r="2.1" fill="#ff8c8c" fill-opacity="0.3" stroke="#ff8c8c" stroke-width="1.1"/><circle cx="309.61" cy="421.18" r="2.1" fill="#ff8c8c" fill-opacity="0.3" stroke="#ff8c8c" stroke-width="1.1"/><circle cx="321.88" cy="425.27" r="2.1" fill="#ff8c8c" fill-opacity="0.3" stroke="#ff8c8c" stroke-width="1.1"/><circle cx="334.16" cy="434.07" r="2.1" fill="#ff8c8c" fill-opacity="0.3" stroke="#ff8c8c" stroke-width="1.1"/><circle cx="346.43" cy="439.53" r="2.1" fill="#ff8c8c" fill-opacity="0.3" stroke="#ff8c8c" stroke-width="1.1"/><circle cx="358.71" cy="423.38" r="2.1" fill="#ff8c8c" fill-opacity="0.3" stroke="#ff8c8c" stroke-width="1.1"/></g>
<polyline points="54.9,411.27 61.04,411.27 67.17,391.89 73.31,392.3 79.45,395.22 85.59,395.22 91.72,394.38 97.86,393.54 104,391.89 110.14,388.69 116.28,387.52 122.41,386.9 128.55,386.9 134.69,386.9 140.82,387.13 146.96,388.3 153.1,389.08 159.24,390.28 165.38,391.89 171.51,392.22 177.65,391.08 183.79,388.69 189.93,387.91 196.06,387.91 202.2,388.69 208.34,393.54 214.48,399.12 220.61,407.19 226.75,413.44 232.89,420.05 239.03,424.08 245.16,429.31 251.3,427.08 257.44,430.19 263.57,430.19 269.71,432.76 275.85,433.68 281.99,440.24 288.12,446.41 294.26,451.59 300.4,457.44 309.61,466.54 321.88,476.7" fill="none" stroke="#339933" stroke-width="1.05" stroke-dasharray="2.5,2.5"/>
<g><rect x="52.25" y="408.62" width="5.3" height="5.3" fill="none" stroke="#339933" stroke-width="1.35"/><rect x="58.39" y="408.62" width="5.3" height="5.3" fill="none" stroke="#339933" stroke-width="1.35"/><rect x="64.52" y="389.24" width="5.3" height="5.3" fill="none" stroke="#339933" stroke-width="1.35"/><rect x="70.66" y="389.65" width="5.3" height="5.3" fill="none" stroke="#339933" stroke-width="1.35"/><rect x="76.8" y="392.57" width="5.3" height="5.3" fill="none" stroke="#339933" stroke-width="1.35"/><rect x="82.94" y="392.57" width="5.3" height="5.3" fill="none" stroke="#339933" stroke-width="1.35"/><rect x="89.07" y="391.73" width="5.3" height="5.3" fill="none" stroke="#339933" stroke-width="1.35"/><rect x="95.21" y="390.89" width="5.3" height="5.3" fill="none" stroke="#339933" stroke-width="1.35"/><rect x="101.35" y="389.24" width="5.3" height="5.3" fill="none" stroke="#339933" stroke-width="1.35"/><rect x="107.49" y="386.04" width="5.3" height="5.3" fill="none" stroke="#339933" stroke-width="1.35"/><rect x="113.62" y="384.87" width="5.3" height="5.3" fill="none" stroke="#339933" stroke-width="1.35"/><rect x="119.76" y="384.25" width="5.3" height="5.3" fill="none" stroke="#339933" stroke-width="1.35"/><rect x="125.9" y="384.25" width="5.3" height="5.3" fill="none" stroke="#339933" stroke-width="1.35"/><rect x="132.04" y="384.25" width="5.3" height="5.3" fill="none" stroke="#339933" stroke-width="1.35"/><rect x="138.17" y="384.48" width="5.3" height="5.3" fill="none" stroke="#339933" stroke-width="1.35"/><rect x="144.31" y="385.65" width="5.3" height="5.3" fill="none" stroke="#339933" stroke-width="1.35"/><rect x="150.45" y="386.43" width="5.3" height="5.3" fill="none" stroke="#339933" stroke-width="1.35"/><rect x="156.59" y="387.63" width="5.3" height="5.3" fill="none" stroke="#339933" stroke-width="1.35"/><rect x="162.72" y="389.24" width="5.3" height="5.3" fill="none" stroke="#339933" stroke-width="1.35"/><rect x="168.86" y="389.57" width="5.3" height="5.3" fill="none" stroke="#339933" stroke-width="1.35"/><rect x="175" y="388.43" width="5.3" height="5.3" fill="none" stroke="#339933" stroke-width="1.35"/><rect x="181.14" y="386.04" width="5.3" height="5.3" fill="none" stroke="#339933" stroke-width="1.35"/><rect x="187.28" y="385.26" width="5.3" height="5.3" fill="none" stroke="#339933" stroke-width="1.35"/><rect x="193.41" y="385.26" width="5.3" height="5.3" fill="none" stroke="#339933" stroke-width="1.35"/><rect x="199.55" y="386.04" width="5.3" height="5.3" fill="none" stroke="#339933" stroke-width="1.35"/><rect x="205.69" y="390.89" width="5.3" height="5.3" fill="none" stroke="#339933" stroke-width="1.35"/><rect x="211.83" y="396.47" width="5.3" height="5.3" fill="none" stroke="#339933" stroke-width="1.35"/><rect x="217.96" y="404.54" width="5.3" height="5.3" fill="none" stroke="#339933" stroke-width="1.35"/><rect x="224.1" y="410.79" width="5.3" height="5.3" fill="none" stroke="#339933" stroke-width="1.35"/><rect x="230.24" y="417.4" width="5.3" height="5.3" fill="none" stroke="#339933" stroke-width="1.35"/><rect x="236.38" y="421.43" width="5.3" height="5.3" fill="none" stroke="#339933" stroke-width="1.35"/><rect x="242.51" y="426.66" width="5.3" height="5.3" fill="none" stroke="#339933" stroke-width="1.35"/><rect x="248.65" y="424.43" width="5.3" height="5.3" fill="none" stroke="#339933" stroke-width="1.35"/><rect x="254.79" y="427.54" width="5.3" height="5.3" fill="none" stroke="#339933" stroke-width="1.35"/><rect x="260.93" y="427.54" width="5.3" height="5.3" fill="none" stroke="#339933" stroke-width="1.35"/><rect x="267.06" y="430.11" width="5.3" height="5.3" fill="none" stroke="#339933" stroke-width="1.35"/><rect x="273.2" y="431.03" width="5.3" height="5.3" fill="none" stroke="#339933" stroke-width="1.35"/><rect x="279.34" y="437.59" width="5.3" height="5.3" fill="none" stroke="#339933" stroke-width="1.35"/><rect x="285.48" y="443.76" width="5.3" height="5.3" fill="none" stroke="#339933" stroke-width="1.35"/><rect x="291.61" y="448.94" width="5.3" height="5.3" fill="none" stroke="#339933" stroke-width="1.35"/><rect x="297.75" y="454.79" width="5.3" height="5.3" fill="none" stroke="#339933" stroke-width="1.35"/><rect x="306.96" y="463.89" width="5.3" height="5.3" fill="none" stroke="#339933" stroke-width="1.35"/><rect x="319.23" y="474.05" width="5.3" height="5.3" fill="none" stroke="#339933" stroke-width="1.35"/></g>
<polyline points="54.9,403.57 61.04,379.02 67.17,378.32 73.31,391.89 79.45,397.8 85.59,403.2 91.72,405.08 97.86,406.03 104,406.51 110.14,406.51 116.28,406.51 122.41,406.51 128.55,406.03 134.69,404.7 140.82,403.39 146.96,402.55 153.1,402.46 159.24,402.28 165.38,402.28 171.51,401.09 177.65,397.19 183.79,390.28 189.93,387.91 196.06,385.6 202.2,384.84 208.34,385.6 214.48,389.48 220.61,397.8 226.75,402.28 232.89,402.83 239.03,408.07 245.16,409.96 251.3,408.07 257.44,408.56 263.57,407.97 269.71,408.07 275.85,406.32 281.99,408.07 288.12,414.07 294.26,416.19 300.4,426.84 309.61,432.63 321.88,441.24 334.16,453.39 346.43,461.51 358.71,444.16" fill="none" stroke="#99203f" stroke-width="1.05"/>
<path d="M309.61 431.13V434.13M308.11 431.13H311.11M308.11 434.13H311.11" stroke="#99203f" stroke-width="1" fill="none"/>
<path d="M321.88 439.24V443.24M320.38 439.24H323.38M320.38 443.24H323.38" stroke="#99203f" stroke-width="1" fill="none"/>
<path d="M334.16 450.89V455.89M332.66 450.89H335.66M332.66 455.89H335.66" stroke="#99203f" stroke-width="1" fill="none"/>
<path d="M346.43 458.51V464.51M344.93 458.51H347.93M344.93 464.51H347.93" stroke="#99203f" stroke-width="1" fill="none"/>
<path d="M358.71 440.66V447.66M357.21 440.66H360.21M357.21 447.66H360.21" stroke="#99203f" stroke-width="1" fill="none"/>
<g><path d="M54.9 400.49L58.15 406.66L51.65 406.66Z" fill="none" stroke="#99203f" stroke-width="1.2"/><path d="M61.04 375.93L64.29 382.11L57.79 382.11Z" fill="none" stroke="#99203f" stroke-width="1.2"/><path d="M67.17 375.23L70.42 381.41L63.92 381.41Z" fill="none" stroke="#99203f" stroke-width="1.2"/><path d="M73.31 388.81L76.56 394.98L70.06 394.98Z" fill="none" stroke="#99203f" stroke-width="1.2"/><path d="M79.45 394.71L82.7 400.89L76.2 400.89Z" fill="none" stroke="#99203f" stroke-width="1.2"/><path d="M85.59 400.11L88.84 406.29L82.34 406.29Z" fill="none" stroke="#99203f" stroke-width="1.2"/><path d="M91.72 401.99L94.97 408.17L88.47 408.17Z" fill="none" stroke="#99203f" stroke-width="1.2"/><path d="M97.86 402.95L101.11 409.12L94.61 409.12Z" fill="none" stroke="#99203f" stroke-width="1.2"/><path d="M104 403.43L107.25 409.6L100.75 409.6Z" fill="none" stroke="#99203f" stroke-width="1.2"/><path d="M110.14 403.43L113.39 409.6L106.89 409.6Z" fill="none" stroke="#99203f" stroke-width="1.2"/><path d="M116.28 403.43L119.53 409.6L113.03 409.6Z" fill="none" stroke="#99203f" stroke-width="1.2"/><path d="M122.41 403.43L125.66 409.6L119.16 409.6Z" fill="none" stroke="#99203f" stroke-width="1.2"/><path d="M128.55 402.95L131.8 409.12L125.3 409.12Z" fill="none" stroke="#99203f" stroke-width="1.2"/><path d="M134.69 401.61L137.94 407.79L131.44 407.79Z" fill="none" stroke="#99203f" stroke-width="1.2"/><path d="M140.82 400.3L144.07 406.47L137.57 406.47Z" fill="none" stroke="#99203f" stroke-width="1.2"/><path d="M146.96 399.47L150.21 405.64L143.71 405.64Z" fill="none" stroke="#99203f" stroke-width="1.2"/><path d="M153.1 399.37L156.35 405.55L149.85 405.55Z" fill="none" stroke="#99203f" stroke-width="1.2"/><path d="M159.24 399.19L162.49 405.37L155.99 405.37Z" fill="none" stroke="#99203f" stroke-width="1.2"/><path d="M165.38 399.19L168.62 405.37L162.12 405.37Z" fill="none" stroke="#99203f" stroke-width="1.2"/><path d="M171.51 398L174.76 404.18L168.26 404.18Z" fill="none" stroke="#99203f" stroke-width="1.2"/><path d="M177.65 394.1L180.9 400.28L174.4 400.28Z" fill="none" stroke="#99203f" stroke-width="1.2"/><path d="M183.79 387.19L187.04 393.36L180.54 393.36Z" fill="none" stroke="#99203f" stroke-width="1.2"/><path d="M189.93 384.82L193.18 390.99L186.68 390.99Z" fill="none" stroke="#99203f" stroke-width="1.2"/><path d="M196.06 382.51L199.31 388.69L192.81 388.69Z" fill="none" stroke="#99203f" stroke-width="1.2"/><path d="M202.2 381.76L205.45 387.93L198.95 387.93Z" fill="none" stroke="#99203f" stroke-width="1.2"/><path d="M208.34 382.51L211.59 388.69L205.09 388.69Z" fill="none" stroke="#99203f" stroke-width="1.2"/><path d="M214.48 386.39L217.73 392.57L211.23 392.57Z" fill="none" stroke="#99203f" stroke-width="1.2"/><path d="M220.61 394.71L223.86 400.89L217.36 400.89Z" fill="none" stroke="#99203f" stroke-width="1.2"/><path d="M226.75 399.19L230 405.37L223.5 405.37Z" fill="none" stroke="#99203f" stroke-width="1.2"/><path d="M232.89 399.74L236.14 405.92L229.64 405.92Z" fill="none" stroke="#99203f" stroke-width="1.2"/><path d="M239.03 404.98L242.28 411.16L235.78 411.16Z" fill="none" stroke="#99203f" stroke-width="1.2"/><path d="M245.16 406.87L248.41 413.04L241.91 413.04Z" fill="none" stroke="#99203f" stroke-width="1.2"/><path d="M251.3 404.98L254.55 411.16L248.05 411.16Z" fill="none" stroke="#99203f" stroke-width="1.2"/><path d="M257.44 405.48L260.69 411.65L254.19 411.65Z" fill="none" stroke="#99203f" stroke-width="1.2"/><path d="M263.57 404.89L266.82 411.06L260.32 411.06Z" fill="none" stroke="#99203f" stroke-width="1.2"/><path d="M269.71 404.98L272.96 411.16L266.46 411.16Z" fill="none" stroke="#99203f" stroke-width="1.2"/><path d="M275.85 403.23L279.1 409.41L272.6 409.41Z" fill="none" stroke="#99203f" stroke-width="1.2"/><path d="M281.99 404.98L285.24 411.16L278.74 411.16Z" fill="none" stroke="#99203f" stroke-width="1.2"/><path d="M288.12 410.98L291.38 417.15L284.88 417.15Z" fill="none" stroke="#99203f" stroke-width="1.2"/><path d="M294.26 413.11L297.51 419.28L291.01 419.28Z" fill="none" stroke="#99203f" stroke-width="1.2"/><path d="M300.4 423.75L303.65 429.93L297.15 429.93Z" fill="none" stroke="#99203f" stroke-width="1.2"/><path d="M309.61 429.54L312.86 435.72L306.36 435.72Z" fill="none" stroke="#99203f" stroke-width="1.2"/><path d="M321.88 438.15L325.13 444.32L318.63 444.32Z" fill="none" stroke="#99203f" stroke-width="1.2"/><path d="M334.16 450.3L337.41 456.47L330.91 456.47Z" fill="none" stroke="#99203f" stroke-width="1.2"/><path d="M346.43 458.42L349.68 464.6L343.18 464.6Z" fill="none" stroke="#99203f" stroke-width="1.2"/><path d="M358.71 441.07L361.96 447.24L355.46 447.24Z" fill="none" stroke="#99203f" stroke-width="1.2"/></g>
<polyline points="54.9,418.38 61.04,424.08 67.17,397.8 73.31,387.13 79.45,383.35 85.59,381.16 91.72,382.62 97.86,385.98 104,390.28 110.14,392.96 116.28,394.71 122.41,395.9 128.55,396.59 134.69,397.36 140.82,397.8 146.96,398.68 153.1,399.3 159.24,399.92 165.38,399.92 171.51,399.3 177.65,397.8 183.79,391.41 189.93,389.48 196.06,388.69 202.2,388.3 208.34,391.08 214.48,394.71 220.61,401.36 226.75,404.51 232.89,409.76 239.03,411.47 245.16,414.49 251.3,415.23 257.44,414.07 263.57,415.23 269.71,412.92 275.85,415.76 281.99,417.94 288.12,423.38 294.26,422.91 300.4,428.56 309.61,436.76 321.88,440.81 334.16,454.38 346.43,460.43 358.71,450.78" fill="none" stroke="#0000ff" stroke-width="1.05"/>
<path d="M309.61 435.26V438.26M308.11 435.26H311.11M308.11 438.26H311.11" stroke="#0000ff" stroke-width="1" fill="none"/>
<path d="M321.88 438.81V442.81M320.38 438.81H323.38M320.38 442.81H323.38" stroke="#0000ff" stroke-width="1" fill="none"/>
<path d="M334.16 451.88V456.88M332.66 451.88H335.66M332.66 456.88H335.66" stroke="#0000ff" stroke-width="1" fill="none"/>
<path d="M346.43 457.43V463.43M344.93 457.43H347.93M344.93 463.43H347.93" stroke="#0000ff" stroke-width="1" fill="none"/>
<path d="M358.71 447.28V454.28M357.21 447.28H360.21M357.21 454.28H360.21" stroke="#0000ff" stroke-width="1" fill="none"/>
<g><path d="M54.9 415.48L57.95 421.27L51.85 421.27Z" fill="#0000ff" stroke="none" stroke-width="0"/><path d="M61.04 421.19L64.09 426.98L57.99 426.98Z" fill="#0000ff" stroke="none" stroke-width="0"/><path d="M67.17 394.9L70.22 400.7L64.12 400.7Z" fill="#0000ff" stroke="none" stroke-width="0"/><path d="M73.31 384.23L76.36 390.03L70.26 390.03Z" fill="#0000ff" stroke="none" stroke-width="0"/><path d="M79.45 380.45L82.5 386.25L76.4 386.25Z" fill="#0000ff" stroke="none" stroke-width="0"/><path d="M85.59 378.26L88.64 384.06L82.54 384.06Z" fill="#0000ff" stroke="none" stroke-width="0"/><path d="M91.72 379.72L94.77 385.51L88.67 385.51Z" fill="#0000ff" stroke="none" stroke-width="0"/><path d="M97.86 383.08L100.91 388.88L94.81 388.88Z" fill="#0000ff" stroke="none" stroke-width="0"/><path d="M104 387.38L107.05 393.17L100.95 393.17Z" fill="#0000ff" stroke="none" stroke-width="0"/><path d="M110.14 390.06L113.19 395.86L107.09 395.86Z" fill="#0000ff" stroke="none" stroke-width="0"/><path d="M116.28 391.82L119.33 397.61L113.23 397.61Z" fill="#0000ff" stroke="none" stroke-width="0"/><path d="M122.41 393L125.46 398.8L119.36 398.8Z" fill="#0000ff" stroke="none" stroke-width="0"/><path d="M128.55 393.69L131.6 399.48L125.5 399.48Z" fill="#0000ff" stroke="none" stroke-width="0"/><path d="M134.69 394.47L137.74 400.26L131.64 400.26Z" fill="#0000ff" stroke="none" stroke-width="0"/><path d="M140.82 394.9L143.88 400.7L137.77 400.7Z" fill="#0000ff" stroke="none" stroke-width="0"/><path d="M146.96 395.78L150.01 401.57L143.91 401.57Z" fill="#0000ff" stroke="none" stroke-width="0"/><path d="M153.1 396.4L156.15 402.19L150.05 402.19Z" fill="#0000ff" stroke="none" stroke-width="0"/><path d="M159.24 397.02L162.29 402.82L156.19 402.82Z" fill="#0000ff" stroke="none" stroke-width="0"/><path d="M165.38 397.02L168.43 402.82L162.32 402.82Z" fill="#0000ff" stroke="none" stroke-width="0"/><path d="M171.51 396.4L174.56 402.19L168.46 402.19Z" fill="#0000ff" stroke="none" stroke-width="0"/><path d="M177.65 394.9L180.7 400.7L174.6 400.7Z" fill="#0000ff" stroke="none" stroke-width="0"/><path d="M183.79 388.51L186.84 394.3L180.74 394.3Z" fill="#0000ff" stroke="none" stroke-width="0"/><path d="M189.93 386.58L192.98 392.38L186.88 392.38Z" fill="#0000ff" stroke="none" stroke-width="0"/><path d="M196.06 385.79L199.11 391.59L193.01 391.59Z" fill="#0000ff" stroke="none" stroke-width="0"/><path d="M202.2 385.4L205.25 391.2L199.15 391.2Z" fill="#0000ff" stroke="none" stroke-width="0"/><path d="M208.34 388.18L211.39 393.98L205.29 393.98Z" fill="#0000ff" stroke="none" stroke-width="0"/><path d="M214.48 391.82L217.53 397.61L211.43 397.61Z" fill="#0000ff" stroke="none" stroke-width="0"/><path d="M220.61 398.47L223.66 404.26L217.56 404.26Z" fill="#0000ff" stroke="none" stroke-width="0"/><path d="M226.75 401.61L229.8 407.41L223.7 407.41Z" fill="#0000ff" stroke="none" stroke-width="0"/><path d="M232.89 406.86L235.94 412.65L229.84 412.65Z" fill="#0000ff" stroke="none" stroke-width="0"/><path d="M239.03 408.58L242.08 414.37L235.97 414.37Z" fill="#0000ff" stroke="none" stroke-width="0"/><path d="M245.16 411.59L248.21 417.38L242.11 417.38Z" fill="#0000ff" stroke="none" stroke-width="0"/><path d="M251.3 412.33L254.35 418.13L248.25 418.13Z" fill="#0000ff" stroke="none" stroke-width="0"/><path d="M257.44 411.17L260.49 416.96L254.39 416.96Z" fill="#0000ff" stroke="none" stroke-width="0"/><path d="M263.57 412.33L266.62 418.13L260.52 418.13Z" fill="#0000ff" stroke="none" stroke-width="0"/><path d="M269.71 410.02L272.76 415.81L266.66 415.81Z" fill="#0000ff" stroke="none" stroke-width="0"/><path d="M275.85 412.87L278.9 418.66L272.8 418.66Z" fill="#0000ff" stroke="none" stroke-width="0"/><path d="M281.99 415.04L285.04 420.83L278.94 420.83Z" fill="#0000ff" stroke="none" stroke-width="0"/><path d="M288.12 420.48L291.18 426.28L285.07 426.28Z" fill="#0000ff" stroke="none" stroke-width="0"/><path d="M294.26 420.02L297.31 425.81L291.21 425.81Z" fill="#0000ff" stroke="none" stroke-width="0"/><path d="M300.4 425.66L303.45 431.46L297.35 431.46Z" fill="#0000ff" stroke="none" stroke-width="0"/><path d="M309.61 433.86L312.66 439.66L306.56 439.66Z" fill="#0000ff" stroke="none" stroke-width="0"/><path d="M321.88 437.91L324.93 443.7L318.83 443.7Z" fill="#0000ff" stroke="none" stroke-width="0"/><path d="M334.16 451.48L337.21 457.28L331.11 457.28Z" fill="#0000ff" stroke="none" stroke-width="0"/><path d="M346.43 457.53L349.48 463.33L343.38 463.33Z" fill="#0000ff" stroke="none" stroke-width="0"/><path d="M358.71 447.89L361.76 453.68L355.66 453.68Z" fill="#0000ff" stroke="none" stroke-width="0"/></g>
<polyline points="54.9,657.99 61.04,479.82 67.17,417.8 73.31,386.35 79.45,363.45 85.59,343.85 91.72,329.65 97.86,322.75 104,322.75 110.14,329.65 116.28,341.35 122.41,358.35 128.55,377.45 134.69,398.4 140.82,421.6 146.96,445 153.1,465.27 159.24,480.62" fill="none" stroke="#ff0000" stroke-width="1.05" stroke-dasharray="1.8,1.1"/>
<g><path d="M54.9 654.74L57.15 657.99L54.9 661.24L52.65 657.99Z" fill="#ff0000"/><path d="M61.04 476.57L63.29 479.82L61.04 483.07L58.79 479.82Z" fill="#ff0000"/><path d="M67.17 414.55L69.42 417.8L67.17 421.05L64.92 417.8Z" fill="#ff0000"/><path d="M73.31 383.1L75.56 386.35L73.31 389.6L71.06 386.35Z" fill="#ff0000"/><path d="M79.45 360.2L81.7 363.45L79.45 366.7L77.2 363.45Z" fill="#ff0000"/><path d="M85.59 340.6L87.84 343.85L85.59 347.1L83.34 343.85Z" fill="#ff0000"/><path d="M91.72 326.4L93.97 329.65L91.72 332.9L89.47 329.65Z" fill="#ff0000"/><path d="M97.86 319.5L100.11 322.75L97.86 326L95.61 322.75Z" fill="#ff0000"/><path d="M104 319.5L106.25 322.75L104 326L101.75 322.75Z" fill="#ff0000"/><path d="M110.14 326.4L112.39 329.65L110.14 332.9L107.89 329.65Z" fill="#ff0000"/><path d="M116.28 338.1L118.53 341.35L116.28 344.6L114.03 341.35Z" fill="#ff0000"/><path d="M122.41 355.1L124.66 358.35L122.41 361.6L120.16 358.35Z" fill="#ff0000"/><path d="M128.55 374.2L130.8 377.45L128.55 380.7L126.3 377.45Z" fill="#ff0000"/><path d="M134.69 395.15L136.94 398.4L134.69 401.65L132.44 398.4Z" fill="#ff0000"/><path d="M140.82 418.35L143.07 421.6L140.82 424.85L138.57 421.6Z" fill="#ff0000"/><path d="M146.96 441.75L149.21 445L146.96 448.25L144.71 445Z" fill="#ff0000"/><path d="M153.1 462.02L155.35 465.27L153.1 468.52L150.85 465.27Z" fill="#ff0000"/><path d="M159.24 477.37L161.49 480.62L159.24 483.87L156.99 480.62Z" fill="#ff0000"/></g>
</g>
<rect x="45.7" y="17.5" width="325.2" height="299.5" fill="none" stroke="#000" stroke-width="1.4"/>
<rect x="45.7" y="317.0" width="325.2" height="160.8" fill="none" stroke="#000" stroke-width="1.4"/>
<path d="M54.9 17.5v8M54.9 317v-8M54.9 317v4.5M54.9 477.8v-4.5M85.59 17.5v4M85.59 317v-4M85.59 317v2.2M85.59 477.8v-2.2M116.28 17.5v4M116.28 317v-4M116.28 317v2.2M116.28 477.8v-2.2M146.96 17.5v4M146.96 317v-4M146.96 317v2.2M146.96 477.8v-2.2M177.65 17.5v8M177.65 317v-8M177.65 317v4.5M177.65 477.8v-4.5M208.34 17.5v4M208.34 317v-4M208.34 317v2.2M208.34 477.8v-2.2M239.03 17.5v4M239.03 317v-4M239.03 317v2.2M239.03 477.8v-2.2M269.71 17.5v4M269.71 317v-4M269.71 317v2.2M269.71 477.8v-2.2M300.4 17.5v8M300.4 317v-8M300.4 317v4.5M300.4 477.8v-4.5M331.09 17.5v4M331.09 317v-4M331.09 317v2.2M331.09 477.8v-2.2M361.77 17.5v4M361.77 317v-4M361.77 317v2.2M361.77 477.8v-2.2M45.7 314.45h11M370.9 314.45h-11M45.7 299.47h5.5M370.9 299.47h-5.5M45.7 290.71h5.5M370.9 290.71h-5.5M45.7 284.5h5.5M370.9 284.5h-5.5M45.7 279.68h5.5M370.9 279.68h-5.5M45.7 275.74h5.5M370.9 275.74h-5.5M45.7 272.41h5.5M370.9 272.41h-5.5M45.7 269.52h5.5M370.9 269.52h-5.5M45.7 266.98h5.5M370.9 266.98h-5.5M45.7 264.7h11M370.9 264.7h-11M45.7 249.72h5.5M370.9 249.72h-5.5M45.7 240.96h5.5M370.9 240.96h-5.5M45.7 234.75h5.5M370.9 234.75h-5.5M45.7 229.93h5.5M370.9 229.93h-5.5M45.7 225.99h5.5M370.9 225.99h-5.5M45.7 222.66h5.5M370.9 222.66h-5.5M45.7 219.77h5.5M370.9 219.77h-5.5M45.7 217.23h5.5M370.9 217.23h-5.5M45.7 214.95h11M370.9 214.95h-11M45.7 199.97h5.5M370.9 199.97h-5.5M45.7 191.21h5.5M370.9 191.21h-5.5M45.7 185h5.5M370.9 185h-5.5M45.7 180.18h5.5M370.9 180.18h-5.5M45.7 176.24h5.5M370.9 176.24h-5.5M45.7 172.91h5.5M370.9 172.91h-5.5M45.7 170.02h5.5M370.9 170.02h-5.5M45.7 167.48h5.5M370.9 167.48h-5.5M45.7 165.2h11M370.9 165.2h-11M45.7 150.22h5.5M370.9 150.22h-5.5M45.7 141.46h5.5M370.9 141.46h-5.5M45.7 135.25h5.5M370.9 135.25h-5.5M45.7 130.43h5.5M370.9 130.43h-5.5M45.7 126.49h5.5M370.9 126.49h-5.5M45.7 123.16h5.5M370.9 123.16h-5.5M45.7 120.27h5.5M370.9 120.27h-5.5M45.7 117.73h5.5M370.9 117.73h-5.5M45.7 115.45h11M370.9 115.45h-11M45.7 100.47h5.5M370.9 100.47h-5.5M45.7 91.71h5.5M370.9 91.71h-5.5M45.7 85.5h5.5M370.9 85.5h-5.5M45.7 80.68h5.5M370.9 80.68h-5.5M45.7 76.74h5.5M370.9 76.74h-5.5M45.7 73.41h5.5M370.9 73.41h-5.5M45.7 70.52h5.5M370.9 70.52h-5.5M45.7 67.98h5.5M370.9 67.98h-5.5M45.7 65.7h11M370.9 65.7h-11M45.7 50.72h5.5M370.9 50.72h-5.5M45.7 41.96h5.5M370.9 41.96h-5.5M45.7 35.75h5.5M370.9 35.75h-5.5M45.7 30.93h5.5M370.9 30.93h-5.5M45.7 26.99h5.5M370.9 26.99h-5.5M45.7 23.66h5.5M370.9 23.66h-5.5M45.7 20.77h5.5M370.9 20.77h-5.5M45.7 18.23h5.5M370.9 18.23h-5.5M45.7 477.79h5M370.9 477.79h-5M45.7 458.31h7M370.9 458.31h-7M45.7 442.39h5M370.9 442.39h-5M45.7 428.94h5M370.9 428.94h-5M45.7 417.28h5M370.9 417.28h-5M45.7 407h5M370.9 407h-5M45.7 397.8h7M370.9 397.8h-7M45.7 389.48h5M370.9 389.48h-5M45.7 381.88h5M370.9 381.88h-5M45.7 374.9h5M370.9 374.9h-5M45.7 368.43h5M370.9 368.43h-5M45.7 362.41h5M370.9 362.41h-5M45.7 356.77h5M370.9 356.77h-5M45.7 351.48h5M370.9 351.48h-5M45.7 346.49h5M370.9 346.49h-5M45.7 341.77h5M370.9 341.77h-5M45.7 337.29h7M370.9 337.29h-7M45.7 333.03h5M370.9 333.03h-5M45.7 328.97h5M370.9 328.97h-5M45.7 325.09h5M370.9 325.09h-5M45.7 321.38h5M370.9 321.38h-5M45.7 317.81h5M370.9 317.81h-5" stroke="#000" stroke-width="1.2" fill="none"/>
<g fill="#000" font-size="12.3">
<text x="51.5" y="14">2360 GeV pp</text>
<text x="366.5" y="14" text-anchor="end">Soft QCD</text>
<text x="82" y="43.3" font-size="11.97">Charged multiplicity, |<tspan dx="-2.6">&#951;</tspan><tspan dx="0.4">|&lt;1.0 ,</tspan><tspan fill-opacity="0">&#8730;</tspan><tspan dx="-2.6">s</tspan><tspan dx="0.6">=2.36 TeV (INEL)</tspan></text>
<path d="M232.8 39.6L233.9 39.2L235 43.6L237 34.3H243.6" fill="none" stroke="#000" stroke-width="0.9"/>
</g>
<g fill="#808080" font-size="9.4">
<text transform="translate(379.6,126.8) rotate(-90)">Rivet 4.1.0, &#8805; 400k events</text>
<text transform="translate(379.6,312.6) rotate(-90)">mcplots.cern.ch [arXiv:2401.10621]</text>
</g>
<text x="167.1" y="301.9" fill="#a0a0a0" font-size="7.9" textLength="81.4">(ALICE_2010_I852450)</text>
<text transform="translate(15.2,59.2) rotate(-90)" font-size="12.2" fill="#000">dN/dN<tspan font-size="7.6" dy="3.0" dx="-0.6">ch</tspan></text>
<g font-size="10.7" fill="#000">
<text x="39.6" y="69.8" text-anchor="end">1</text>
<text x="39.6" y="120.8" text-anchor="end">10<tspan font-size="7" dy="-4.3">&#8722;1</tspan></text>
<text x="39.6" y="170.5" text-anchor="end">10<tspan font-size="7" dy="-4.3">&#8722;2</tspan></text>
<text x="39.6" y="220.3" text-anchor="end">10<tspan font-size="7" dy="-4.3">&#8722;3</tspan></text>
<text x="39.6" y="270" text-anchor="end">10<tspan font-size="7" dy="-4.3">&#8722;4</tspan></text>
<text x="39.6" y="319.8" text-anchor="end" clip-path="url(#cl5)">10<tspan font-size="7" dy="-4.3">&#8722;5</tspan></text>
</g>
<g font-size="12.3" fill="#000">
<text x="38.5" y="341.2" text-anchor="end">2</text>
<text x="38.5" y="401.8" text-anchor="end">1</text>
<text x="38.5" y="462.3" text-anchor="end">0.5</text>
<text x="373.8" y="341.2">2</text>
<text x="373.8" y="401.8">1</text>
<text x="373.8" y="462.3">0.5</text>
</g>
<text transform="translate(18.3,426.3) rotate(-90)" font-size="9.4" textLength="59" fill="#000">Ratio to ALICE</text>
<g font-size="11" fill="#000" text-anchor="middle">
<text x="54.9" y="489.2">0</text>
<text x="177.65" y="489.2">20</text>
<text x="300.4" y="489.2">40</text>
</g>
<text x="354.2" y="502.9" font-size="12.3" fill="#000" textLength="17.2">N<tspan font-size="7.8" dy="3.6">ch</tspan></text>
<rect x="73.75" y="208.55" width="5.3" height="5.3" fill="#000" stroke="none" stroke-width="0"/>
<line x1="64" y1="224.0" x2="89" y2="224.0" stroke="#ff8c8c" stroke-width="1.05"/>
<circle cx="76.4" cy="224" r="2.3" fill="#ff8c8c" fill-opacity="0.3" stroke="#ff8c8c" stroke-width="1.1"/>
<line x1="64" y1="237.0" x2="89" y2="237.0" stroke="#339933" stroke-width="1.2" stroke-dasharray="2.5,2.5"/>
<rect x="73.75" y="234.35" width="5.3" height="5.3" fill="none" stroke="#339933" stroke-width="1.35"/>
<line x1="64" y1="250.0" x2="89" y2="250.0" stroke="#99203f" stroke-width="1.2"/>
<path d="M76.4 246.91L79.65 253.09L73.15 253.09Z" fill="none" stroke="#99203f" stroke-width="1.2"/>
<line x1="64" y1="263.0" x2="89" y2="263.0" stroke="#0000ff" stroke-width="1.2"/>
<path d="M76.4 259.91L79.65 266.09L73.15 266.09Z" fill="#0000ff" stroke="none" stroke-width="0"/>
<line x1="64" y1="276.0" x2="89" y2="276.0" stroke="#ff0000" stroke-width="1.2" stroke-dasharray="1,1.5"/>
<path d="M76.4 272.75L78.65 276L76.4 279.25L74.15 276Z" fill="#ff0000"/>
<g font-size="9.5" fill="#000"><text x="94" y="213.5">ALICE</text><text x="94" y="226.3">Epos 1.99.crmc.1.6.0 lhc</text><text x="94" y="239.3">Herwig 7.2.1 default</text><text x="94" y="252.3">Pythia 6.428 370</text><text x="94" y="265.3">Pythia 8.315 default</text><text x="94" y="278.3">Sherpa 2.2.9 default</text></g>
</svg>
</body></html>
